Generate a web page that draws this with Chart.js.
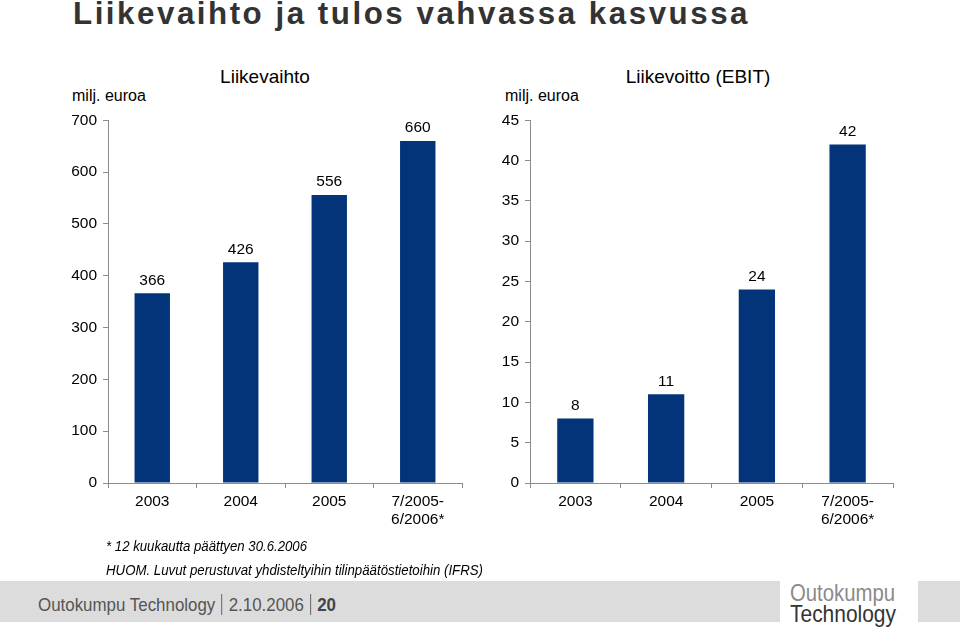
<!DOCTYPE html>
<html>
<head>
<meta charset="utf-8">
<script src="https://cdn.jsdelivr.net/npm/chart.js@4"></script>
<style>
  body { margin: 0; width: 960px; height: 627px; background: #fff; position: relative; overflow: hidden; font-family: "Liberation Sans", Arial, sans-serif; }
  .abs { position: absolute; white-space: nowrap; }
  .fit { transform-origin: 0 0; }
  #title { left: 73px; top: -4px; font-weight: bold; font-size: 31px; color: #333; letter-spacing: 2.5px; }
  .ctitle { font-size: 19px; color: #000; transform: translateX(-50%); }
  .unit { font-size: 16px; color: #000; }
  .note { font-size: 14.5px; font-style: italic; color: #000; }
  #band { left: 0; top: 581px; width: 780px; height: 41px; background: #dcdcdc; }
  #sq { left: 918px; top: 581px; width: 42px; height: 41px; background: #dcdcdc; }
  #foot { left: 38px; top: 594px; font-size: 19px; color: #555; }
  #foot .sep { display: inline-block; width: 1px; height: 21px; background: #555; margin: 0 7px; vertical-align: -4px; }
  .logo { font-size: 24px; line-height: 22px; }
  canvas { position: absolute; }
</style>
</head>
<body>
<div id="title" class="abs fit" data-w="677">Liikevaihto ja tulos vahvassa kasvussa</div>

<div class="abs ctitle" style="left:265px; top:66px;">Liikevaihto</div>
<div class="abs ctitle" style="left:698px; top:66px;">Liikevoitto (EBIT)</div>
<div class="abs unit" style="left:72px; top:87px;">milj. euroa</div>
<div class="abs unit" style="left:505px; top:87px;">milj. euroa</div>

<canvas id="salesChart" style="left:40px; top:105px;" width="440" height="435"></canvas>
<canvas id="ebitChart" style="left:480px; top:105px;" width="440" height="435"></canvas>

<div class="abs note fit" data-w="201" style="left:106px; top:538px;">* 12 kuukautta päättyen 30.6.2006</div>
<div class="abs note fit" data-w="377" style="left:106px; top:562px;">HUOM. Luvut perustuvat yhdisteltyihin tilinpäätöstietoihin (IFRS)</div>

<div id="band" class="abs"></div>
<div id="sq" class="abs"></div>
<div id="foot" class="abs fit" data-w="298">Outokumpu Technology<span class="sep"></span>2.10.2006<span class="sep"></span><b style="color:#444">20</b></div>
<div class="abs logo fit" data-w="105" style="left:790px; top:582px; color:#8a8a8a;">Outokumpu</div>
<div class="abs logo fit" data-w="106" style="left:790px; top:603px; color:#333;">Technology</div>

<script>
// data
const years = ['2003', '2004', '2005', ['7/2005-', '6/2006*']];
const salesValues = [366, 426, 556, 660];
const ebitValues = [8, 11, 24, 42];
const salesTicks = [0, 100, 200, 300, 400, 500, 600, 700];
const ebitTicks = [0, 5, 10, 15, 20, 25, 30, 35, 40, 45];

// squeeze texts to the widths they have in the original (narrow fonts there)
document.querySelectorAll('.fit').forEach(el => {
  const w = el.getBoundingClientRect().width;
  el.style.transform = 'scaleX(' + (Number(el.dataset.w) / w) + ')';
});

const BAR_COLOR = '#033479';
const AXIS_COLOR = '#8c8c8c';
const FONT = { family: 'Liberation Sans, Arial, sans-serif', size: 15.5 };

// draws value labels above the bars
const valueLabels = {
  id: 'valueLabels',
  afterDatasetsDraw(chart) {
    const ctx = chart.ctx;
    const meta = chart.getDatasetMeta(0);
    ctx.save();
    ctx.font = '15.5px ' + FONT.family;
    ctx.fillStyle = '#000';
    ctx.textAlign = 'center';
    ctx.textBaseline = 'middle';
    meta.data.forEach((bar, i) => {
      ctx.fillText(chart.data.datasets[0].data[i], bar.x, bar.y - 13);
    });
    ctx.restore();
  }
};

function makeChart(id, values, ticks, yWidth, padRight) {
  const max = ticks[ticks.length - 1];
  return new Chart(document.getElementById(id), {
    type: 'bar',
    data: {
      labels: years,
      datasets: [{
        data: values,
        backgroundColor: BAR_COLOR,
        borderWidth: 0,
        categoryPercentage: 1,
        barPercentage: 0.4
      }]
    },
    options: {
      responsive: false,
      animation: false,
      layout: { padding: { top: 14, right: padRight, bottom: 0, left: 0 } },
      plugins: { legend: { display: false }, tooltip: { enabled: false } },
      scales: {
        x: {
          offset: true,
          grid: { offset: true, drawOnChartArea: false, drawTicks: true, tickLength: 5, color: AXIS_COLOR },
          border: { color: AXIS_COLOR },
          ticks: { color: '#000', font: FONT, padding: 4, maxRotation: 0 },
          afterFit: s => { s.height = 57; }
        },
        y: {
          min: 0,
          max: max,
          afterBuildTicks: s => { s.ticks = ticks.map(v => ({ value: v })); },
          grid: { drawOnChartArea: false, drawTicks: true, tickLength: 5, color: AXIS_COLOR },
          border: { color: AXIS_COLOR },
          ticks: { color: '#000', font: FONT, padding: 6 },
          afterFit: s => { s.width = yWidth; }
        }
      }
    },
    plugins: [valueLabels]
  });
}

makeChart('salesChart', salesValues, salesTicks, 68, 18);
makeChart('ebitChart', ebitValues, ebitTicks, 50, 27);
</script>
</body>
</html>
